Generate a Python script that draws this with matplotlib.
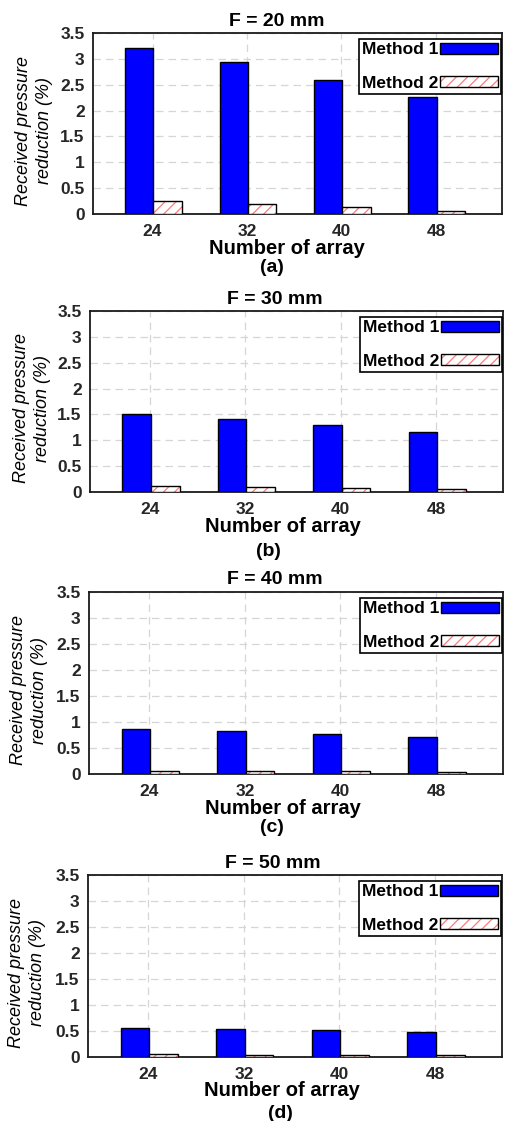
import numpy as np
import matplotlib.pyplot as plt
from matplotlib.patches import Patch
from matplotlib.legend_handler import HandlerTuple
from matplotlib.ticker import FuncFormatter

plt.rcParams['font.family'] = ['Liberation Sans', 'DejaVu Sans']
plt.rcParams['hatch.linewidth'] = 0.9

# Data
array_sizes = ['24', '32', '40', '48']
titles = ['F = 20 mm', 'F = 30 mm', 'F = 40 mm', 'F = 50 mm']
panel_tags = ['(a)', '(b)', '(c)', '(d)']

method1_f20 = [3.21, 2.93, 2.60, 2.27]
method2_f20 = [0.25, 0.20, 0.145, 0.065]
method1_f30 = [1.50, 1.41, 1.30, 1.16]
method2_f30 = [0.115, 0.10, 0.085, 0.058]
method1_f40 = [0.86, 0.82, 0.77, 0.71]
method2_f40 = [0.064, 0.058, 0.051, 0.045]
method1_f50 = [0.56, 0.54, 0.515, 0.48]
method2_f50 = [0.05, 0.045, 0.04, 0.035]

method1 = [method1_f20, method1_f30, method1_f40, method1_f50]
method2 = [method2_f20, method2_f30, method2_f40, method2_f50]

W, H = 507, 1121
fig = plt.figure(figsize=(W / 100, H / 100), dpi=100)

# axes boxes in pixels: left, right, top, bottom
boxes = [(93, 502, 33, 214), (90, 503, 311, 492),
         (89, 503, 592, 774), (88, 502, 875, 1057)]
title_x = [277, 275, 275, 273]
xlab_x = [287, 283, 283, 282]
tag_x = [272, 268, 272, 280]
tag_dy = [54, 60, 54, 57]
ylab_x = [34, 32, 29, 27]

hatch_red = '#ff7a7a'
x = np.arange(1, len(array_sizes) + 1)
bw = 0.3

for i, (l, r, t, b) in enumerate(boxes):
    ax = fig.add_axes([l / W, 1 - b / H, (r - l) / W, (b - t) / H])
    ax.bar(x - 0.14, method1[i], bw, color='blue', edgecolor='black',
           lw=1.0, zorder=3)
    ax.bar(x + 0.16, method2[i], bw, color='white', edgecolor=hatch_red,
           hatch='///', lw=0, zorder=3)
    ax.bar(x + 0.16, method2[i], bw, color='none', edgecolor='black',
           lw=1.0, zorder=4)

    ax.set_xlim(0.37, 4.7)
    ax.set_ylim(0, 3.5)
    ax.set_xticks(x, array_sizes)
    ax.set_yticks(np.arange(0, 3.51, 0.5))
    ax.yaxis.set_major_formatter(FuncFormatter(lambda v, p: f'{v:g}'))
    ax.grid(True, ls=(0, (6, 4)), color='#d6d6d6', lw=0.9)
    ax.set_axisbelow(True)
    ax.tick_params(axis='both', length=0, labelsize=12.5, colors='#262626')
    ax.tick_params(axis='x', pad=7)
    ax.tick_params(axis='y', pad=6)
    for lab in ax.get_xticklabels() + ax.get_yticklabels():
        lab.set_fontweight('bold')
    for sp in ax.spines.values():
        sp.set_linewidth(1.3)
        sp.set_color('#1a1a1a')

    h1 = Patch(facecolor='blue', edgecolor='black', lw=1.0)
    h2 = (Patch(facecolor='white', edgecolor=hatch_red, hatch='///', lw=0),
          Patch(facecolor='none', edgecolor='black', lw=1.0))
    leg = ax.legend([h1, h2], ['Method 1', 'Method 2'],
                    handler_map={tuple: HandlerTuple(ndivide=1, pad=0)},
                    loc='upper right', bbox_to_anchor=(0.998, 1 - 6 / (b - t)),
                    borderaxespad=0, markerfirst=False, fancybox=False,
                    edgecolor='black', framealpha=1, handlelength=3.3,
                    handleheight=0.65, handletextpad=0.1, labelspacing=1.05,
                    borderpad=0.2, prop={'weight': 'bold', 'size': 12.5})
    leg.get_frame().set_linewidth(1.2)

    fig.text(title_x[i] / W, 1 - (t - 12) / H, titles[i], ha='center',
             va='center', fontsize=14, fontweight='bold')
    fig.text(xlab_x[i] / W, 1 - (b + 34) / H, 'Number of array',
             ha='center', va='center', fontsize=14.5, fontweight='bold')
    fig.text(tag_x[i] / W, 1 - (b + tag_dy[i]) / H, panel_tags[i],
             ha='center', va='center', fontsize=14, fontweight='bold')
    fig.text(ylab_x[i] / W, 1 - ((t + b) / 2 + 7) / H,
             'Received pressure\nreduction (%)', rotation=90, ha='center',
             va='center', ma='center', fontsize=13, style='italic',
             linespacing=1.35)

fig.savefig('out.png', dpi=100)
